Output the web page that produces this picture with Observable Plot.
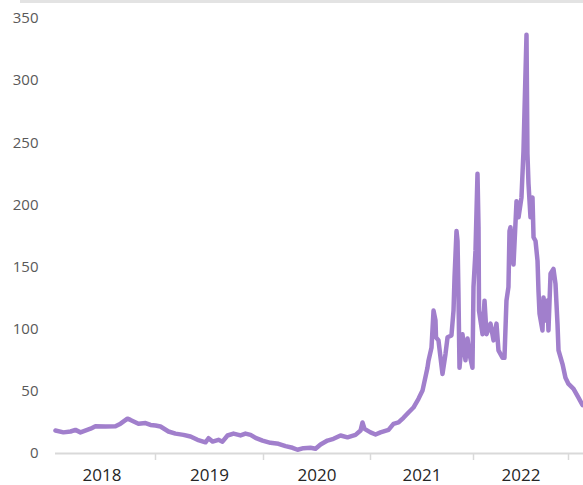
<!DOCTYPE html>
<html>
<head>
<meta charset="utf-8">
<script src="https://cdn.jsdelivr.net/npm/d3@7"></script>
<script src="https://cdn.jsdelivr.net/npm/@observablehq/plot@0.6"></script>
<style>
  html, body { margin: 0; padding: 0; background: #fff; }
  #wrap { position: relative; width: 583px; height: 485px; }
  #topline { position: absolute; top: 0px; left: 20px; right: 0; border-top: 3px solid #e3e3e3; }
  svg { display: block; }
</style>
</head>
<body>
<div id="wrap"><div id="topline"></div><div id="chart"></div></div>
<script>
// Decimal-year positions of the readings
const t = [
  2018.065, 2018.140, 2018.206, 2018.252, 2018.299, 2018.393, 2018.439, 2018.533, 2018.626, 2018.673,
  2018.738, 2018.766, 2018.841, 2018.907, 2018.953,
  2019.000, 2019.046, 2019.120, 2019.185, 2019.259, 2019.324, 2019.389, 2019.463, 2019.491, 2019.528,
  2019.583, 2019.620, 2019.667, 2019.722, 2019.769, 2019.787, 2019.833, 2019.880, 2019.926, 2019.991,
  2020.065, 2020.140, 2020.206, 2020.271, 2020.318, 2020.374, 2020.439, 2020.486, 2020.533, 2020.598,
  2020.654, 2020.720, 2020.785, 2020.860, 2020.907, 2020.925, 2020.944,
  2021.000, 2021.049, 2021.097, 2021.175, 2021.223, 2021.272, 2021.320, 2021.369, 2021.417, 2021.466,
  2021.505, 2021.553, 2021.563, 2021.592, 2021.612, 2021.631, 2021.636, 2021.660, 2021.699, 2021.728,
  2021.748, 2021.786, 2021.806, 2021.816, 2021.835, 2021.845, 2021.854, 2021.864, 2021.893, 2021.922,
  2021.942, 2021.961, 2021.990,
  2022.000, 2022.021, 2022.042, 2022.053, 2022.058, 2022.095, 2022.116, 2022.137, 2022.179, 2022.211,
  2022.242, 2022.263, 2022.305, 2022.326, 2022.347, 2022.368, 2022.379, 2022.389, 2022.421, 2022.453,
  2022.474, 2022.505, 2022.526, 2022.537, 2022.558, 2022.568, 2022.579, 2022.600, 2022.621, 2022.632,
  2022.653, 2022.674, 2022.684, 2022.695, 2022.726, 2022.737, 2022.758, 2022.779, 2022.789, 2022.811,
  2022.842, 2022.863, 2022.884, 2022.895, 2022.937, 2022.968,
  2023.000, 2023.053, 2023.105, 2023.147
];
const v = [
  18.5, 17, 17.7, 19, 17, 20, 22, 21.7, 22, 24,
  28, 27, 24, 24.5, 23,
  22.5, 21.7, 17.7, 16, 15, 13.7, 11, 9, 12.3, 9.6,
  11, 9.5, 14.5, 16, 15, 14.5, 16, 15, 12.6, 10.4,
  8.6, 7.8, 5.9, 4.6, 3, 4.3, 4.6, 3.8, 7.2, 10.4,
  11.8, 14.5, 13, 15, 18.5, 25, 19.8,
  17, 15.3, 17, 19, 23.8, 25, 28.7, 33, 37, 44,
  50.6, 69, 74.7, 85, 115, 107, 93.5, 91, 64, 80,
  93.5, 95, 115, 142, 179, 171, 128, 69, 96, 75,
  92.5, 80, 69,
  134, 163, 225, 182, 115, 96, 123, 96, 104.5, 91,
  104.5, 83, 77, 77, 123, 134, 179, 182, 152, 203,
  190, 206, 243, 276, 337, 241, 217, 190, 206, 174,
  171, 155, 131, 112.5, 99, 125.6, 107, 123, 99, 144.6,
  148.5, 136.6, 104.5, 83, 72, 61,
  56, 52, 45, 39
];
const yearLabels = [2018, 2019, 2020, 2021, 2022];
const yearBounds = [2018, 2019, 2020, 2021, 2022, 2023];
const yTicks = [0, 50, 100, 150, 200, 250, 300, 350];

const data = t.map((d, i) => ({t: d, v: v[i]}));

const plot = Plot.plot({
  width: 583,
  height: 485,
  marginLeft: 55,
  marginRight: 0,
  marginTop: 18,
  marginBottom: 32,
  style: {fontFamily: "'Open Sans', sans-serif", background: "#fff"},
  x: {type: "linear", domain: yearBounds, range: [48, 155, 263, 370, 473, 568], label: null},
  y: {domain: [0, 350], label: null},
  marks: [
    Plot.axisY({ticks: yTicks, tickSize: 0, tickPadding: 17, fontSize: 15, color: "#595959", label: null, tickFormat: d => String(d)}),
    Plot.axisX({ticks: yearBounds.slice(1), tickSize: 7, tickFormat: () => "", label: null, stroke: "#d9d9d9", strokeWidth: 1.5}),
    Plot.axisX({ticks: yearLabels.map(y => y + 0.5), tickSize: 0, tickPadding: 15, fontSize: 17, color: "#262626", label: null, tickFormat: d => String(Math.floor(d))}),
    Plot.ruleY([0], {stroke: "#d9d9d9", strokeWidth: 2}),
    Plot.line(data, {x: "t", y: "v", stroke: "#a17fcc", strokeWidth: 4.5, strokeLinejoin: "round", strokeLinecap: "round"})
  ]
});
document.getElementById("chart").appendChild(plot);
</script>
</body>
</html>
